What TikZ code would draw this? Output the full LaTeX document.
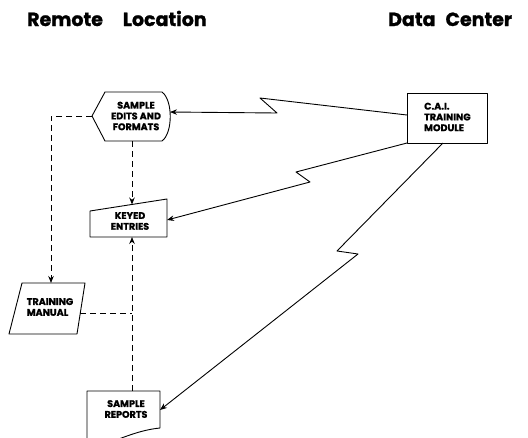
\documentclass[tikz,border=0pt]{standalone}
\usepackage{fontspec}
\setmainfont{Poppins}
\newfontfamily\heavyfont{Poppins}[BoldFeatures={FakeBold=1.2}]
\usetikzlibrary{arrows.meta}
\tikzset{
  tip/.style={-{Stealth[length=7pt,width=5.5pt]}},
  flow/.style={line width=0.9pt, line join=round, tip},
  aux/.style={line width=0.9pt, dash pattern=on 6pt off 4pt},
  outline/.style={line width=0.9pt, line join=round},
  boxtext/.style={font=\heavyfont\fontsize{9.6}{10.8}\selectfont\bfseries, align=center, inner sep=0pt},
  heading/.style={font=\heavyfont\fontsize{19}{22}\selectfont\bfseries, anchor=base west, inner sep=0pt}
}
\begin{document}
\begin{tikzpicture}[x=1pt,y=-1pt]
\clip (0,0) rectangle (528,437);
\fill[white] (0,0) rectangle (528,437);

% column headings
\node[heading] (hl) at (27,26) {Remote\hspace{20pt}Location};
\node[heading] (hd) at (388,26) {Data\hspace{10pt}Center};

% display symbol: sample edits and formats
\draw[outline] (92,116) -- (105,92) -- (162,92)
  .. controls (173,100) and (173,133) .. (162,141) -- (105,141) -- cycle;
\node[boxtext] (se) at (136,116) {SAMPLE\\EDITS AND\\FORMATS};
\coordinate (se-w) at (92,116);
\coordinate (se-e) at (170,112);
\coordinate (se-s) at (132,141);

% manual input: keyed entries
\draw[outline] (90,211) -- (167,199) -- (167,237) -- (90,237) -- cycle;
\node[boxtext] (ke) at (130,221) {KEYED\\ENTRIES};
\coordinate (ke-n) at (132,204.5);
\coordinate (ke-s) at (132,237);
\coordinate (ke-e) at (167,220);

% input/output: training manual
\draw[outline] (22,283) -- (85,283) -- (77,334) -- (9,334) -- cycle;
\node[boxtext, align=left] (tm) at (50,307) {TRAINING\\MANUAL};
\coordinate (tm-n) at (51,283);
\coordinate (tm-e) at (80.3,313);

% document: sample reports
\draw[outline] (87,445) -- (87,391) -- (160,391) -- (160,428)
  .. controls (140,430) and (125,437) .. (105,444);
\node[boxtext] (sr) at (126,409) {SAMPLE\\REPORTS};
\coordinate (sr-n) at (132,391);
\coordinate (sr-e) at (160,410);

% process: C.A.I. training module
\draw[outline] (407,93) rectangle (487,143);
\node[boxtext, align=left, anchor=west] (cai) at (424,117) {C.A.I.\\TRAINING\\MODULE};
\coordinate (cai-w) at (407,115);
\coordinate (cai-sw) at (407,143);
\coordinate (cai-s) at (443,143);

% communication links
\draw[flow] (cai-w) -- (260,98) -- (277,113) -- (se-e);
\draw[flow] (cai-sw) -- (296,172) -- (310,182) -- (ke-e);
\draw[flow] (cai-s) -- (337,251) -- (358,254) -- (sr-e);

% reference flows
\coordinate (bend) at (51,116);
\coordinate (join) at (132,313);
\draw[aux, tip] (se-s) -- (ke-n);
\draw[aux, tip] (se-w) -- (bend) -- (tm-n);
\draw[aux, tip] (sr-n) -- (ke-s);
\draw[aux] (tm-e) -- (join);
\end{tikzpicture}
\end{document}
